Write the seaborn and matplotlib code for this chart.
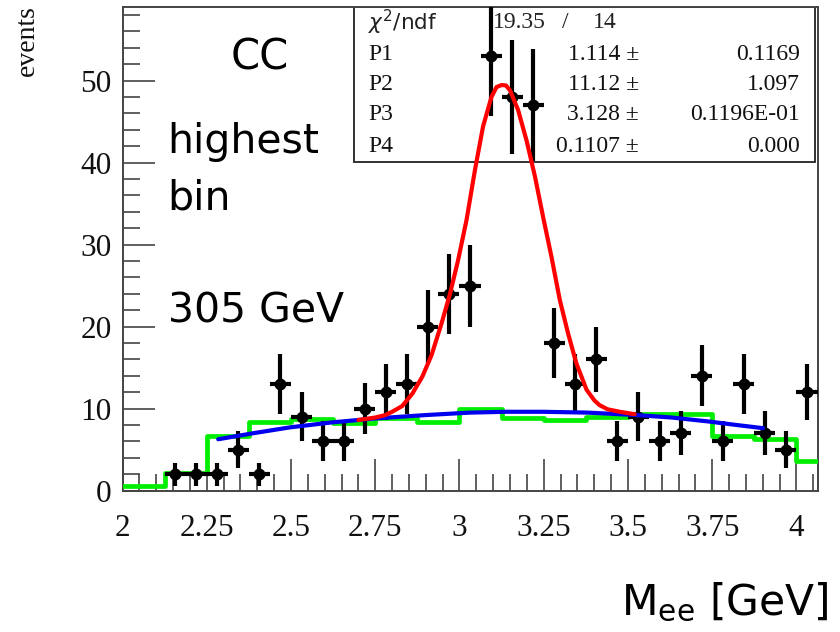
import numpy as np
import matplotlib
matplotlib.use("Agg")
import matplotlib.pyplot as plt
import seaborn as sns
import pandas as pd
from matplotlib.patches import Rectangle
from matplotlib.ticker import FixedLocator, MultipleLocator

# ---------------- data ----------------
bin_centers = [2.15625, 2.21875, 2.28125, 2.34375, 2.40625, 2.46875, 2.53125, 2.59375,
               2.65625, 2.71875, 2.78125, 2.84375, 2.90625, 2.96875, 3.03125, 3.09375,
               3.15625, 3.21875, 3.28125, 3.34375, 3.40625, 3.46875, 3.53125, 3.59375,
               3.65625, 3.71875, 3.78125, 3.84375, 3.90625, 3.96875, 4.03125]
counts = [2, 2, 2, 5, 2, 13, 9, 6, 6, 10, 12, 13, 20, 24, 25, 53, 48, 47, 18, 13, 16,
          6, 9, 6, 7, 14, 6, 13, 7, 5, 12]
count_err = [1.41, 1.41, 1.41, 2.24, 1.41, 3.61, 3.0, 2.45, 2.45, 3.16, 3.46, 3.61,
             4.47, 4.90, 5.0, 7.28, 6.93, 6.86, 4.24, 3.61, 4.0, 2.45, 3.0, 2.45, 2.65,
             3.74, 2.45, 3.61, 2.65, 2.24, 3.46]
bin_half_width = 0.03125

mc_edges = [2.0, 2.125, 2.25, 2.375, 2.5, 2.625, 2.75, 2.875, 3.0, 3.125, 3.25, 3.375,
            3.5, 3.625, 3.75, 3.875, 4.0, 4.125]
mc_values = [0.5, 2.1, 6.6, 8.4, 8.7, 8.2, 8.8, 8.4, 10.0, 8.9, 8.6, 9.0, 9.3, 9.3,
             6.6, 6.3, 3.6]

fit_x = [2.70, 2.75, 2.78, 2.80, 2.83, 2.86, 2.89, 2.917, 2.947, 2.972, 2.996, 3.021,
         3.046, 3.070, 3.095, 3.11, 3.125, 3.138, 3.150, 3.174, 3.199, 3.224, 3.248,
         3.273, 3.298, 3.322, 3.347, 3.377, 3.40, 3.416, 3.44, 3.476, 3.52]
fit_y = [8.6, 8.9, 9.2, 9.6, 10.3, 11.8, 13.9, 16.5, 20.4, 24.0, 28.1, 33.0, 39.1,
         44.4, 48.0, 49.2, 49.45, 49.4, 48.8, 46.4, 42.7, 38.3, 33.4, 28.5, 23.2, 19.2,
         15.5, 12.3, 11.0, 10.4, 9.9, 9.6, 9.3]

bkg_x = [2.284, 2.39, 2.497, 2.62, 2.754, 2.90, 3.031, 3.14, 3.247, 3.38, 3.525, 3.63,
         3.743, 3.82, 3.901]
bkg_y = [6.25, 7.0, 7.7, 8.3, 8.8, 9.2, 9.5, 9.6, 9.6, 9.5, 9.2, 8.9, 8.4, 8.0, 7.6]

x_ticks = [2.0, 2.25, 2.5, 2.75, 3.0, 3.25, 3.5, 3.75, 4.0]
x_tick_labels = ["2", "2.25", "2.5", "2.75", "3", "3.25", "3.5", "3.75", "4"]
y_ticks = [0, 10, 20, 30, 40, 50]

stat_names = [r"$\chi^{2}$/ndf", "P1", "P2", "P3", "P4"]
stat_vals = ["1.114", "11.12", "3.128", "0.1107"]
stat_errs = ["0.1169", "1.097", "0.1196E-01", "0.000"]

# ---------------- figure ----------------
sns.set_theme(style="white")
plt.rcParams["font.family"] = ["DejaVu Sans"]

W, H = 840, 632
fig = plt.figure(figsize=(W / 100, H / 100), dpi=100)
fig.patch.set_facecolor("white")
ax_l, ax_r, ax_t, ax_b = 122.5, 817.5, 7.3, 490.5
ax = fig.add_axes([ax_l / W, 1 - ax_b / H, (ax_r - ax_l) / W, (ax_b - ax_t) / H])
ax.set_facecolor("white")
ax.set_xlim(2.0, 4.0625)
ax.set_ylim(0, 58.93)

def fx(px):
    return px / W

def fy(py):
    return 1 - py / H

# stats box (drawn below the data)
bx0 = 2.0 + (354 - ax_l) / 337.1
bx1 = 2.0 + (815 - ax_l) / 337.1
by0 = (ax_b - 162) / 8.2
by1 = 58.93
ax.add_patch(Rectangle((bx0, by0), bx1 - bx0, by1 - by0, facecolor="white",
                       edgecolor="#222222", linewidth=1.3, zorder=1))

serif = "Liberation Serif"
row_y = [22, 55, 85, 115, 146]
fig.text(fx(368), fy(row_y[0]), stat_names[0], fontsize=15.5, va="center",
         ha="left", family="DejaVu Sans", color="#222222", zorder=2)
fig.text(fx(493), fy(row_y[0]), "19.35", fontsize=17, va="center", ha="left",
         family=serif, color="#222222")
fig.text(fx(565), fy(row_y[0]), "/", fontsize=17, va="center", ha="center",
         family=serif, color="#222222")
fig.text(fx(617), fy(row_y[0]), "14", fontsize=17, va="center", ha="right",
         family=serif, color="#222222")
for i in range(4):
    yy = fy(row_y[i + 1])
    fig.text(fx(368), yy, stat_names[i + 1], fontsize=17, va="center", ha="left",
             family=serif, color="#111111")
    fig.text(fx(639), yy, stat_vals[i] + " \u00b1", fontsize=17, va="center",
             ha="right", family=serif, color="#111111")
    fig.text(fx(800), yy, stat_errs[i], fontsize=17, va="center", ha="right",
             family=serif, color="#111111")

# MC histogram (green steps)
mc_df = pd.DataFrame({"x": mc_edges, "y": mc_values + [mc_values[-1]]})
sns.lineplot(data=mc_df, x="x", y="y", ax=ax, color="#00ee00", linewidth=3.4,
             drawstyle="steps-post", zorder=3, estimator=None, sort=False)

# data points with errors
ax.errorbar(bin_centers, counts, yerr=count_err, xerr=bin_half_width, fmt="o",
            color="black", markersize=7.5, elinewidth=3.0, capsize=0, zorder=4)

# background fit (blue) and full fit (red)
bkg_df = pd.DataFrame({"x": bkg_x, "y": bkg_y})
sns.lineplot(data=bkg_df, x="x", y="y", ax=ax, color="#0000ee", linewidth=3.0,
             zorder=5, estimator=None, sort=False)
fit_df = pd.DataFrame({"x": fit_x, "y": fit_y})
sns.lineplot(data=fit_df, x="x", y="y", ax=ax, color="#ff0000", linewidth=3.0,
             zorder=6, estimator=None, sort=False)

# axes styling
ax.set_xlabel("")
ax.set_ylabel("")
ax.xaxis.set_major_locator(FixedLocator(x_ticks))
ax.xaxis.set_minor_locator(MultipleLocator(0.05))
ax.yaxis.set_major_locator(FixedLocator(y_ticks))
ax.yaxis.set_minor_locator(MultipleLocator(2))
ax.set_xticklabels(x_tick_labels)
ax.tick_params(axis="both", which="both", direction="in", top=False, right=False,
               color="#444444", width=1.2, bottom=True, left=True)
ax.tick_params(axis="x", which="major", length=23, pad=17, labelsize=22.5)
ax.tick_params(axis="x", which="minor", length=12)
ax.tick_params(axis="y", which="major", length=23, pad=8, labelsize=22.5)
ax.tick_params(axis="y", which="minor", length=12)
for lab in ax.get_xticklabels() + ax.get_yticklabels():
    lab.set_family(serif)
    lab.set_color("#111111")
for sp in ax.spines.values():
    sp.set_color("#444444")
    sp.set_linewidth(1.4)
    sp.set_visible(True)

# annotations
fig.text(fx(27), fy(5), "events", rotation=90, ha="center", va="top",
         fontsize=20, family=serif, color="#111111")
fig.text(fx(231), fy(70), "CC", fontsize=30, ha="left", va="baseline", color="black")
fig.text(fx(167), fy(153), "highest", fontsize=29.5, ha="left", va="baseline",
         color="black")
fig.text(fx(167), fy(210), "bin", fontsize=29.5, ha="left", va="baseline",
         color="black")
fig.text(fx(168), fy(323), "305 GeV", fontsize=29.5, ha="left", va="baseline",
         color="black")
fig.text(fx(828), fy(615), r"M$_{\mathrm{ee}}$ [GeV]", fontsize=30.5, ha="right",
         va="baseline", color="black")

fig.savefig("out.png", dpi=100, facecolor="white")
